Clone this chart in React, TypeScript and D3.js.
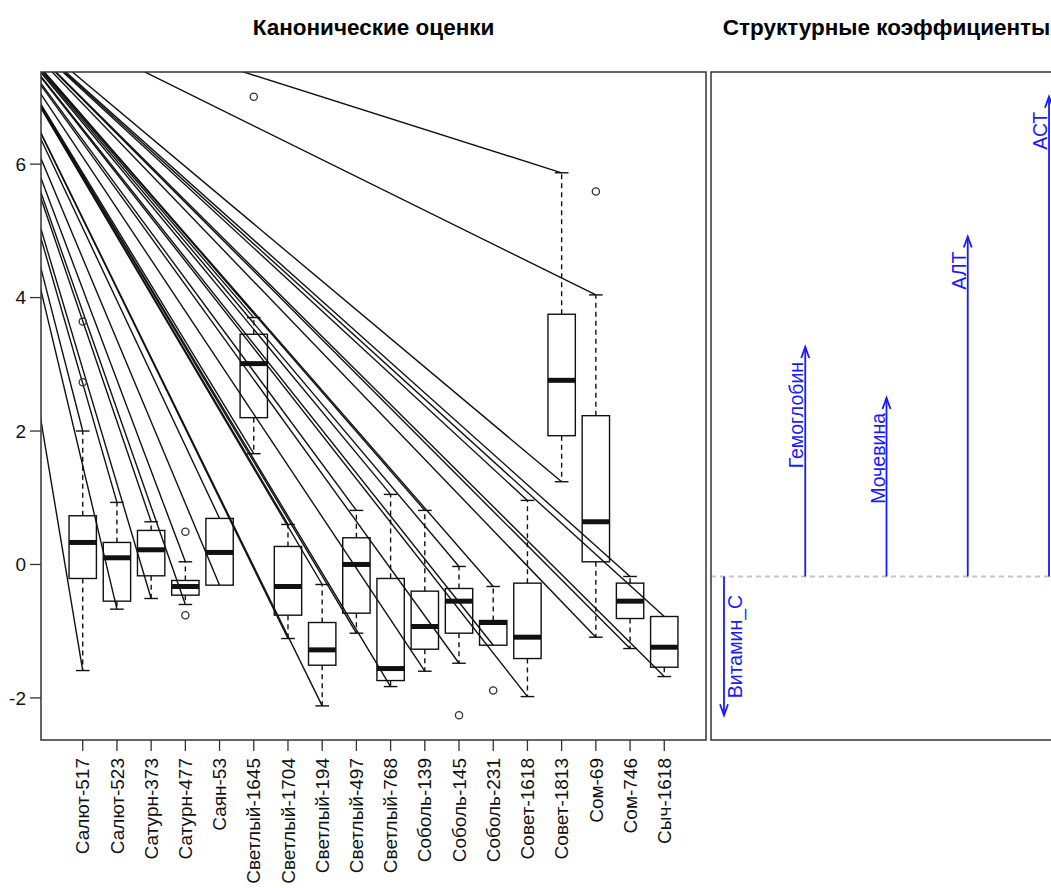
import React from "react";
import * as d3 from "d3";

// Groups (cultivars) and their canonical-score box statistics
const groups = [
  "Салют-517", "Салют-523", "Сатурн-373", "Сатурн-477", "Саян-53",
  "Светлый-1645", "Светлый-1704", "Светлый-194", "Светлый-497", "Светлый-768",
  "Соболь-139", "Соболь-145", "Соболь-231", "Совет-1618", "Совет-1813",
  "Сом-69", "Сом-746", "Сыч-1618",
];
const whiskerHigh = [2.0, 0.93, 0.64, 0.04, 0.69, 3.7, 0.6, -0.3, 0.81, 1.05, 0.81, -0.03, -0.33, 0.96, 5.87, 4.04, -0.18, -0.78];
const upperHinge = [0.73, 0.33, 0.51, -0.24, 0.69, 3.45, 0.27, -0.87, 0.4, -0.21, -0.4, -0.36, -0.84, -0.28, 3.75, 2.23, -0.28, -0.78];
const medians = [0.33, 0.1, 0.22, -0.33, 0.18, 3.01, -0.33, -1.28, 0.0, -1.56, -0.93, -0.55, -0.87, -1.09, 2.76, 0.64, -0.55, -1.24];
const lowerHinge = [-0.21, -0.55, -0.17, -0.46, -0.31, 2.2, -0.76, -1.51, -0.73, -1.74, -1.27, -1.03, -1.21, -1.41, 1.93, 0.04, -0.81, -1.54];
const whiskerLow = [-1.59, -0.67, -0.51, -0.6, -0.31, 1.66, -1.11, -2.12, -1.03, -1.83, -1.6, -1.48, -1.21, -1.98, 1.24, -1.09, -1.26, -1.68];

// Outlying scores: group index (1-based) and value
const outlierGroup = [1, 1, 4, 4, 6, 12, 13, 16];
const outlierValue = [2.73, 3.64, 0.49, -0.76, 7.01, -2.26, -1.89, 5.59];

// Common origin of the rays drawn to every whisker end (data units)
const rayOrigin = [-2.35, 8.69];

// Structure coefficients
const variables = ["Витамин_С", "Гемоглобин", "Мочевина", "АЛТ", "АСТ"];
const structure = [-0.269, 0.445, 0.346, 0.659, 0.93];

const W = 1051;
const H = 888;
const FONT = "'Liberation Sans', Arial, Helvetica, sans-serif";

export default function App() {
  const n = groups.length;
  // left panel: boxplot of canonical scores
  const plotL = { x0: 41, x1: 706, y0: 72, y1: 740 };
  const xPad = 0.04 * n;
  const xL = d3.scaleLinear().domain([0.5 - xPad, n + 0.5 + xPad]).range([plotL.x0, plotL.x1]);
  const allVals = [...whiskerHigh, ...whiskerLow, ...outlierValue];
  const [vMin, vMax] = d3.extent(allVals) as [number, number];
  const yPad = 0.04 * (vMax - vMin);
  const yL = d3.scaleLinear().domain([vMin - yPad, vMax + yPad]).range([plotL.y1, plotL.y0]);

  const boxHalf = xL(1.4) - xL(1);
  const capHalf = xL(1.2) - xL(1);

  // right panel: structure coefficients
  const plotR = { x0: 711, x1: 1062, y0: 72, y1: 740 };
  const m = variables.length;
  const xRpad = 0.04 * (m - 1);
  const xR = d3.scaleLinear().domain([1 - xRpad, m + xRpad]).range([plotR.x0, plotR.x1]);
  const sMin = Math.min(0, d3.min(structure) as number);
  const sMax = Math.max(0, d3.max(structure) as number);
  const sPad = 0.04 * (sMax - sMin);
  const yR = d3.scaleLinear().domain([sMin - sPad, sMax + sPad]).range([plotR.y1, plotR.y0]);

  const yTicks = yL.ticks(5);
  const blue = "#1a1aff";

  return (
    <svg
      width={W}
      height={H}
      viewBox={`0 0 ${W} ${H}`}
      style={{ position: "absolute", left: 0, top: 0, background: "#fff" }}
      fontFamily={FONT}
    >
      <defs>
        <clipPath id="clipL">
          <rect x={plotL.x0} y={plotL.y0} width={plotL.x1 - plotL.x0} height={plotL.y1 - plotL.y0} />
        </clipPath>
        <clipPath id="clipR">
          <rect x={plotR.x0} y={plotR.y0} width={plotR.x1 - plotR.x0} height={plotR.y1 - plotR.y0} />
        </clipPath>
      </defs>

      {/* titles */}
      <text x={(plotL.x0 + plotL.x1) / 2} y={35} textAnchor="middle" fontSize={22.5} fontWeight="bold" fill="#000">
        Канонические оценки
      </text>
      <text x={(plotR.x0 + plotR.x1) / 2} y={35} textAnchor="middle" fontSize={22.5} fontWeight="bold" fill="#000">
        Структурные коэффициенты
      </text>

      {/* rays to whisker ends */}
      <g clipPath="url(#clipL)" stroke="#111" strokeWidth={1.4} fill="none">
        {groups.map((g, i) => (
          <g key={g}>
            <line x1={xL(rayOrigin[0])} y1={yL(rayOrigin[1])} x2={xL(i + 1)} y2={yL(whiskerHigh[i])} />
            <line x1={xL(rayOrigin[0])} y1={yL(rayOrigin[1])} x2={xL(i + 1)} y2={yL(whiskerLow[i])} />
          </g>
        ))}
      </g>

      {/* boxes */}
      <g clipPath="url(#clipL)" fill="none" stroke="#111">
        {groups.map((g, i) => {
          const cx = xL(i + 1);
          return (
            <g key={g}>
              {whiskerHigh[i] > upperHinge[i] && (
                <>
                  <line x1={cx} x2={cx} y1={yL(upperHinge[i])} y2={yL(whiskerHigh[i])} strokeWidth={1.4} strokeDasharray="5,4" />
                  <line x1={cx - capHalf} x2={cx + capHalf} y1={yL(whiskerHigh[i])} y2={yL(whiskerHigh[i])} strokeWidth={1.4} />
                </>
              )}
              {whiskerLow[i] < lowerHinge[i] && (
                <>
                  <line x1={cx} x2={cx} y1={yL(lowerHinge[i])} y2={yL(whiskerLow[i])} strokeWidth={1.4} strokeDasharray="5,4" />
                  <line x1={cx - capHalf} x2={cx + capHalf} y1={yL(whiskerLow[i])} y2={yL(whiskerLow[i])} strokeWidth={1.4} />
                </>
              )}
              <rect
                x={cx - boxHalf}
                y={yL(upperHinge[i])}
                width={2 * boxHalf}
                height={yL(lowerHinge[i]) - yL(upperHinge[i])}
                strokeWidth={1.4}
              />
              <line x1={cx - boxHalf} x2={cx + boxHalf} y1={yL(medians[i])} y2={yL(medians[i])} strokeWidth={5} />
            </g>
          );
        })}
        {outlierValue.map((v, k) => (
          <circle key={k} cx={xL(outlierGroup[k])} cy={yL(v)} r={3.6} strokeWidth={1.3} stroke="#333" />
        ))}
      </g>

      {/* left frame and axes */}
      <rect x={plotL.x0} y={plotL.y0} width={plotL.x1 - plotL.x0} height={plotL.y1 - plotL.y0} fill="none" stroke="#333" strokeWidth={1.5} />
      {yTicks.map((t) => (
        <g key={t}>
          <line x1={plotL.x0 - 11} x2={plotL.x0} y1={yL(t)} y2={yL(t)} stroke="#333" strokeWidth={1.3} />
          <text x={plotL.x0 - 15} y={yL(t)} dy="0.35em" textAnchor="end" fontSize={19} fill="#111">
            {t}
          </text>
        </g>
      ))}
      {groups.map((g, i) => (
        <g key={g}>
          <line x1={xL(i + 1)} x2={xL(i + 1)} y1={plotL.y1} y2={plotL.y1 + 11} stroke="#333" strokeWidth={1.3} />
          <text
            transform={`translate(${xL(i + 1)},${plotL.y1 + 18}) rotate(-90)`}
            dy="0.35em"
            textAnchor="end"
            fontSize={19}
            fill="#111"
          >
            {g}
          </text>
        </g>
      ))}

      {/* right panel */}
      <g clipPath="url(#clipR)">
        <line x1={plotR.x0} x2={plotR.x1} y1={yR(0)} y2={yR(0)} stroke="#c4c4c4" strokeWidth={2} strokeDasharray="5,4" />
        {variables.map((v, i) => {
          const cx = xR(i + 1);
          const y0 = yR(0);
          const y1 = yR(structure[i]);
          const dir = structure[i] >= 0 ? 1 : -1;
          return (
            <g key={v}>
              <line x1={cx} x2={cx} y1={y0} y2={y1} stroke={blue} strokeWidth={1.8} />
              <polyline
                points={`${cx - 4},${y1 + dir * 11} ${cx},${y1} ${cx + 4},${y1 + dir * 11}`}
                fill="none"
                stroke={blue}
                strokeWidth={1.8}
              />
              {dir > 0 ? (
                <text transform={`translate(${cx - 2},${y1 + 15}) rotate(-90)`} textAnchor="end" fontSize={19.5} fill={blue}>
                  {v}
                </text>
              ) : (
                <text transform={`translate(${cx + 18},${y1 - 17}) rotate(-90)`} textAnchor="start" fontSize={19.5} fill={blue}>
                  {v}
                </text>
              )}
            </g>
          );
        })}
      </g>
      <rect x={plotR.x0} y={plotR.y0} width={plotR.x1 - plotR.x0} height={plotR.y1 - plotR.y0} fill="none" stroke="#333" strokeWidth={1.5} />
    </svg>
  );
}
